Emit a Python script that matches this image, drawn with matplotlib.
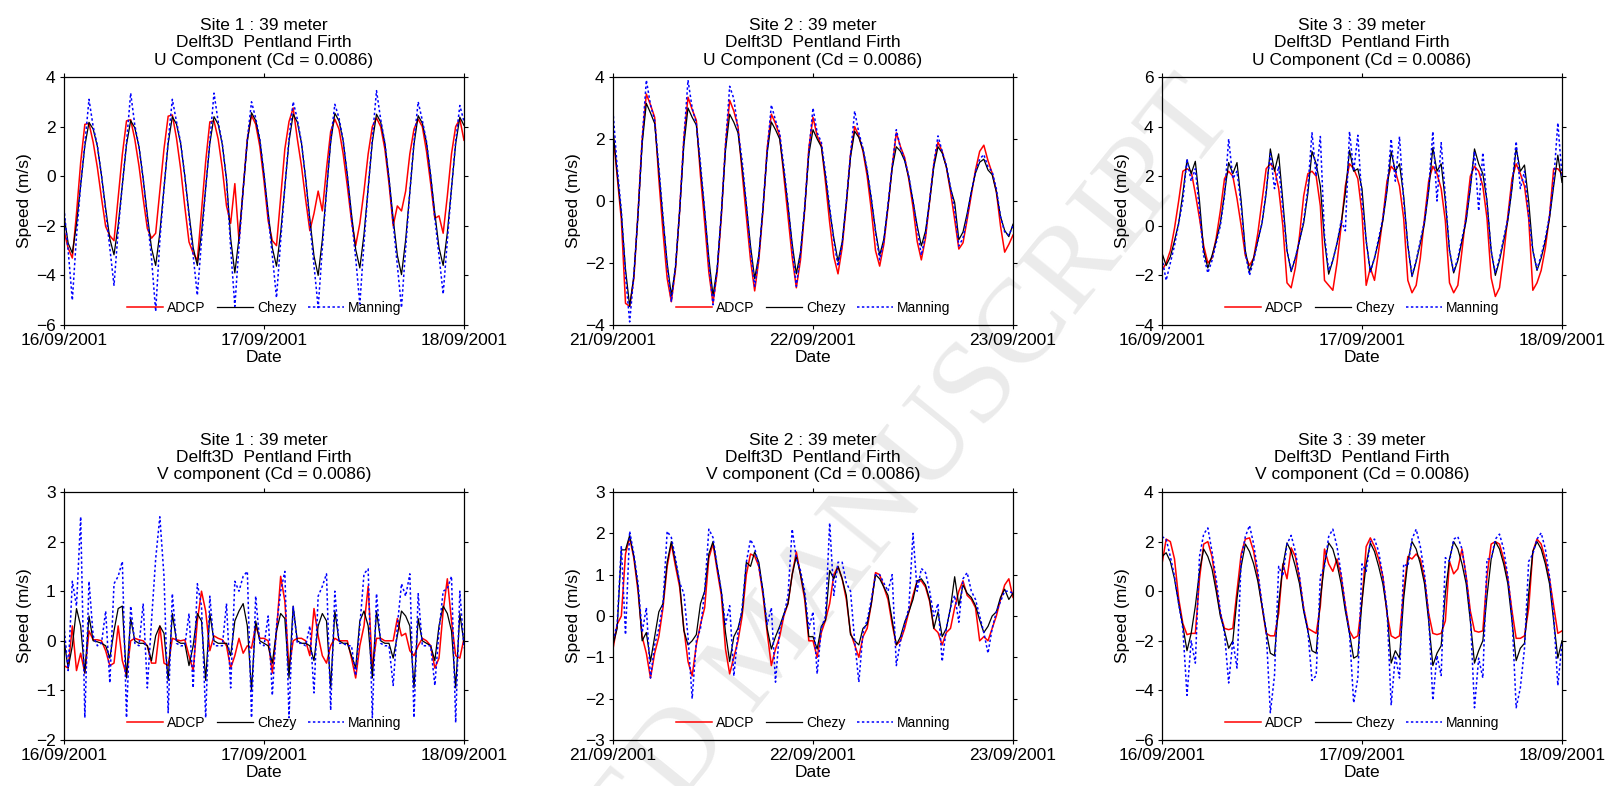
import numpy as np
import matplotlib
matplotlib.use('Agg')
import matplotlib.pyplot as plt
import matplotlib.dates as mdates

plt.rcParams['font.family'] = ['Liberation Sans', 'DejaVu Sans']

# half-hourly values (m/s), 97 samples = two days per panel
u1_adcp = [-2.2, -2.9, -3.3, -1.5, 0.55, 2.09, 2.13, 1.37, 0.36, -0.88, -2.03, -2.4,
           -2.6, -0.87, 0.87, 2.23, 2.28, 1.48, 0.41, -0.9, -2.11, -2.5,
           -2.3, -0.6, 1.1, 2.42, 2.47, 1.53, 0.29, -1.24, -2.65, -3.1,
           -3.4, -1.41, 0.59, 2.19, 2.23, 1.5, 0.3, -1.2, -1.9,
           -0.3, -2.6, -0.5, 1.5, 2.45, 2.1, 1.2, -0.2, -1.8, -2.6,
           -2.8, -0.86, 1.09, 2.2, 2.75, 1.5, 0.4, -0.95, -2.2, -1.5,
           -0.6, -1.4, 0.3, 1.8, 2.3, 1.9, 0.9, -0.4, -1.8, -2.8,
           -1.9, -0.6, 0.9, 2.0, 2.35, 2.0, 1.1, -0.3, -2.0, -1.2,
           -1.4, -0.6, 0.9, 1.9, 2.3, 2.0, 1.0, -0.3, -1.7, -1.6,
           -2.3, -0.8, 0.9, 2.0, 2.3, 1.45]
u1_chezy = [-1.6, -2.7,
            -3.1, -1.94, -0.36, 1.22, 2.17, 1.90, 1.21, 0.03, -1.30, -2.53,
            -3.17, -1.98, -0.36, 1.27, 2.24, 1.95, 1.19, -0.1, -1.56, -2.9,
            -3.6, -2.28, -0.48, 1.32, 2.4, 2.1, 1.32, 0.0, -1.5, -2.88,
            -3.6, -2.28, -0.48, 1.32, 2.4, 2.09, 1.27, -0.12, -2.51,
            -3.9, -2.48, -0.54, 1.4, 2.56, 2.25, 1.45, 0.08, -1.46, -2.89,
            -3.63, -2.28, -0.44, 1.4, 2.5, 2.18, 1.33, -0.1, -1.72, -3.22,
            -4.0, -2.56, -0.6, 1.36, 2.54, 2.23, 1.42, 0.04, -1.52, -2.95,
            -3.7, -2.34, -0.48, 1.38, 2.5, 2.18, 1.34, -0.09, -1.71, -3.19,
            -3.97, -2.56, -0.64, 1.29, 2.44, 2.14, 1.35, 0.02, -1.49, -2.88,
            -3.6, -2.28, -0.49, 1.30, 2.38, 2.05]
u1_manning = [-1.3, -3.0, -5.0, -2.4, -0.36, 1.3, 3.1, 2.0, 1.25, 0.03, -1.4, -2.9,
              -4.4, -2.2, -0.36, 1.35, 3.35, 2.05, 1.2, -0.1, -1.7, -3.3,
              -5.45, -2.6, -0.48, 1.4, 3.1, 2.2, 1.35, 0.0, -1.6, -3.2,
              -4.8, -2.6, -0.48, 1.4, 3.35, 2.2, 1.3, -0.15, -2.9,
              -5.25, -2.8, -0.54, 1.5, 3.0, 2.35, 1.5, 0.08, -1.6, -3.2,
              -4.9, -2.6, -0.44, 1.5, 3.0, 2.3, 1.35, -0.1, -1.9, -3.6,
              -5.3, -2.9, -0.6, 1.45, 2.9, 2.35, 1.45, 0.04, -1.7, -3.3,
              -5.15, -2.7, -0.48, 1.5, 3.45, 2.3, 1.35, -0.09, -1.9, -3.6,
              -5.3, -2.9, -0.64, 1.4, 3.0, 2.25, 1.4, 0.02, -1.7, -3.2,
              -4.75, -2.6, -0.49, 1.4, 2.85, 2.2]

u2_adcp = [2.2, 0.8, -0.6, -3.3, -3.4,
           -2.5, -0.4, 2.0, 3.45, 3.1, 2.7, 0.7, -1.0, -2.5,
           -3.25, -2.2, -0.3, 2.0, 3.35, 2.95, 2.6, 0.8, -0.7, -2.3,
           -3.3, -2.3, -0.5, 1.8, 3.25, 2.9, 2.4, 0.9, -0.5, -1.9,
           -2.9, -1.9, -0.3, 1.7, 2.8, 2.5, 2.1, 0.8, -0.5, -1.8,
           -2.8, -1.9, -0.3, 1.7, 2.7, 2.1, 1.8, 0.6, -0.7, -1.8,
           -2.35, -1.5, -0.1, 1.5, 2.4, 2.1, 1.6, 0.8, -0.3, -1.6,
           -2.1, -1.4, -0.2, 1.1, 2.2, 1.75, 1.4, 0.7, -0.2, -1.3,
           -1.9, -1.2, 0.0, 1.2, 1.9, 1.6, 1.1, 0.3, -0.6,
           -1.55, -1.35, -0.6, 0.2, 1.0, 1.6, 1.8, 1.3, 0.9, 0.3, -0.8, -1.65, -1.4, -1.1]
u2_chezy = [2.3, 0.9, -0.4, -2.2, -3.4,
            -2.42, -0.45, 1.84, 3.15, 2.84, 2.5, 0.98, -0.57, -2.0,
            -3.05, -2.14, -0.33, 1.79, 3.0, 2.7, 2.45, 1.06, -0.33, -1.84,
            -3.05, -2.17, -0.42, 1.63, 2.8, 2.54, 2.2, 1.1, -0.12, -1.44,
            -2.5, -1.74, -0.23, 1.54, 2.55, 2.3, 2.0, 0.98, -0.15, -1.37,
            -2.35, -1.65, -0.26, 1.5, 2.3, 2.0, 1.75, 0.8, -0.3, -1.2,
            -1.95, -1.32, -0.06, 1.41, 2.25, 2.05, 1.65, 0.97, 0.05, -0.95,
            -1.75, -1.23, -0.17, 1.05, 1.75, 1.6, 1.3, 0.75, 0.0, -0.8,
            -1.45, -0.97, 0.0, 1.1, 1.75, 1.55, 1.1, 0.4, -0.05,
            -1.25, -1.0, -0.4, 0.3, 0.9, 1.25, 1.35, 1.0, 0.85, 0.3, -0.5, -0.95, -1.15, -0.75]
u2_manning = [2.9, 1.1, -0.3, -2.4, -3.9,
              -2.4, -0.45, 2.0, 3.9, 3.1, 2.6, 1.1, -0.5, -2.1,
              -3.25, -2.1, -0.3, 2.0, 3.9, 3.0, 2.5, 1.2, -0.3, -2.0,
              -3.35, -2.2, -0.4, 1.8, 3.7, 3.3, 2.3, 1.3, -0.1, -1.6,
              -2.75, -1.8, -0.2, 1.6, 3.1, 2.6, 2.2, 1.1, -0.1, -1.5,
              -2.75, -1.7, -0.2, 1.6, 3.0, 2.2, 1.9, 0.9, -0.2, -1.3,
              -2.1, -1.4, 0.0, 1.5, 2.9, 2.2, 1.7, 1.0, 0.1, -1.0,
              -1.9, -1.3, -0.1, 1.1, 2.3, 1.7, 1.35, 0.8, 0.0, -0.9,
              -1.75, -1.1, 0.05, 1.2, 2.1, 1.6, 1.15, 0.45, -0.3,
              -1.45, -1.2, -0.5, 0.3, 0.95, 1.35, 1.5, 1.1, 0.95, 0.4, -0.5, -1.0, -1.1, -0.8]

u3_adcp = [-1.8, -1.5, -1.0, -0.1, 1.0, 2.2, 2.3, 2.2, 1.3, 0.3, -0.8, -1.5,
           -1.3, -0.5, 0.6, 1.9, 2.2, 2.0, 1.1, 0.0, -1.2, -1.6,
           -1.3, -0.3, 1.0, 2.3, 2.5, 2.3, 1.5, 0.0, -2.3, -2.5,
           -1.7, -0.4, 1.2, 2.1, 2.2, 2.0, 0.8, -2.2, -2.4, -2.6,
           -1.5, 0.0, 1.6, 2.5, 2.3, 1.9, 0.5, -2.4, -1.7, -2.2,
           -1.0, 0.3, 1.8, 2.4, 2.2, 1.6, 0.3, -2.2, -2.7, -2.4,
           -1.3, 0.3, 1.8, 2.4, 2.1, 1.5, 0.2, -2.3, -2.7, -2.4,
           -1.0, 0.5, 2.0, 2.4, 2.2, 1.6, 0.3, -2.1, -2.85, -2.5,
           -1.2, 0.4, 1.9, 2.5, 2.1, 1.6, 0.3, -2.6, -2.3, -1.8,
           -0.9, 0.4, 2.3, 2.3, 2.1]
u3_chezy = [-1.1, -1.6, -1.25, -0.6, 0.1, 1.3, 2.65, 2.1, 2.6, 1.0, -1.0,
            -1.7, -1.2, -0.6, 0.1, 1.3, 2.55, 2.1, 2.55, 1.0, -1.0,
            -1.85, -1.3, -0.6, 0.1, 1.3, 3.1, 2.2, 2.9, 1.0, -1.0,
            -1.85, -1.3, -0.6, 0.1, 1.3, 3.0, 2.5, 1.6, -0.6,
            -1.95, -1.4, -0.7, 0.1, 1.3, 3.05, 2.2, 2.3, 1.5, -0.6,
            -1.85, -1.3, -0.6, 0.2, 1.4, 3.0, 2.2, 2.5, 1.2, -0.8,
            -2.05, -1.45, -0.7, 0.1, 1.4, 3.15, 2.2, 2.5, 1.0, -1.0,
            -1.9, -1.4, -0.6, 0.2, 1.5, 3.1, 2.5, 2.1, 1.0, -1.0,
            -2.0, -1.4, -0.6, 0.2, 1.5, 3.15, 2.2, 2.45, 1.0, -1.0,
            -1.8, -1.3, -0.6, 0.3, 1.6, 2.85, 1.75]
u3_manning = [-1.3, -2.2, -1.5, -0.8, 0.1, 1.0, 2.7, 1.8, 2.3, 0.6, -1.2,
              -1.9, -1.4, -0.7, 0.0, 1.2, 3.5, 1.9, 2.2, 0.8, -1.1,
              -2.0, -1.4, -0.6, 0.1, 1.4, 2.9, 1.5, 2.4, 0.7, -1.0,
              -1.8, -1.3, -0.6, 0.2, 1.5, 3.75, 2.0, 3.6, -0.4,
              -1.8, -1.4, -0.7, 0.2, -0.2, 3.8, 2.2, 3.65, 1.0, -0.6,
              -1.85, -1.3, -0.5, 0.3, 1.5, 3.5, 1.8, 3.6, 1.0, -0.8,
              -2.0, -1.4, -0.6, 0.2, 1.5, 3.8, 1.0, 3.35, 1.2, -1.0,
              -1.85, -1.3, -0.5, 0.3, 1.6, 3.0, 0.6, 2.95, 0.9, -1.0,
              -1.9, -1.3, -0.5, 0.3, 1.6, 3.4, 1.5, 2.2, 0.4, -1.0,
              -1.75, -1.2, -0.5, 0.4, 1.8, 4.15, 2.0]

v1_adcp = [-0.5, -0.55, 0.3, -0.6, -0.25, -0.65, 0.2, 0.02, 0.02, 0.0,
           -0.2, -0.5, -0.45, 0.3, -0.4, -0.7, 0.0, 0.05, 0.02, 0.0,
           -0.1, -0.45, -0.45, 0.3, -0.45, -0.5, 0.05, 0.02, 0.0, 0.02,
           -0.3, -0.6, 0.4, 1.0, 0.6, -0.2, 0.1, 0.05, 0.02, -0.1,
           -0.55, -0.3, 0.05, -0.25, -0.1, -0.15, 0.3, 0.05, 0.05, 0.0,
           -0.65, 0.2, 1.3, 0.8, -0.55, 0.0, 0.05, 0.05, 0.0, -0.3,
           0.65, 0.1, -0.3, -0.45, -0.1, 0.05, 0.0, 0.0, 0.0, -0.35,
           -0.75, -0.1, 0.3, 1.1, -0.55, 0.05, 0.05, 0.0, 0.0, 0.0,
           0.45, 0.1, 0.15, -0.2, -0.3, -0.1, 0.05, 0.0, -0.1, -0.55,
           -0.35, 0.6, 1.25, 0.4, -0.3, -0.35, 0.05]
v1_chezy = [0.0, -0.55, -0.1, 0.65, 0.3, -0.65, 0.5, 0.0, -0.02, -0.05,
            -0.1, -0.35, 0.2, 0.65, 0.7, -0.75, 0.45, 0.0, -0.05, -0.05,
            -0.1, -0.4, 0.1, 0.3, 0.15, -0.8, 0.55, 0.0, -0.05, -0.05,
            -0.5, -0.1, 0.55, 0.4, -0.8, 0.55, 0.0, -0.05, -0.05, -0.05,
            -0.3, 0.4, 0.6, 0.75, 0.3, -1.0, 0.4, 0.0, -0.05, -0.1,
            -0.45, 0.2, 0.55, 0.45, -0.75, 0.7, 0.0, -0.05, -0.05, -0.1,
            -0.4, 0.3, 0.55, 0.4, -0.95, 0.6, 0.0, -0.05, -0.05, -0.3,
            -0.55, 0.4, 0.6, 0.3, -0.75, 0.6, 0.0, -0.05, -0.05, -0.35,
            0.1, 0.6, 0.5, 0.3, -0.95, 0.45, 0.0, -0.05, -0.1, -0.4,
            0.3, 0.7, 0.55, 0.2, -0.95, 0.55, -0.05]
v1_manning = [0.3, -0.6, 1.2, 0.7, 2.5, -1.55, 1.2, 0.1, -0.1, -0.05,
              0.6, -0.85, 1.15, 1.3, 1.6, -1.55, 0.7, -0.05, -0.1, 0.75,
              -0.95, 0.4, 1.65, 2.5, 1.3, -1.45, 0.95, -0.05, -0.1, -0.1,
              0.55, -0.95, 1.15, 0.7, -1.55, 0.9, -0.1, -0.1, -0.1, 0.75,
              -0.95, 1.2, 1.0, 1.3, 1.4, -1.55, 0.9, -0.05, -0.1, 0.5,
              -1.1, 0.3, 1.0, 1.4, -1.55, 0.7, -0.05, -0.05, -0.1, 0.3,
              -1.05, 0.9, 1.1, 1.35, -1.4, 1.0, -0.05, -0.05, -0.1, -0.1,
              -0.7, 0.3, 1.35, 1.45, -1.55, 0.95, -0.05, -0.1, -0.1, -0.9,
              0.3, 1.15, 0.9, 1.35, -1.55, 0.95, -0.1, -0.1, -0.1, -0.9,
              0.2, 1.0, 1.05, 1.3, -1.65, 1.0, -0.15]

v2_adcp = [-0.8, -0.2, 0.0, 1.5, 1.9, 1.4, 0.6, -0.5, -0.9, -1.5,
           -0.9, -0.5, 0.2, 1.2, 1.75, 1.2, 0.7, -0.3, -1.1, -1.45,
           -0.7, -0.2, 0.2, 1.4, 1.75, 1.1, 0.5, -0.8, -1.4, -1.0,
           -0.6, 0.0, 1.0, 1.5, 1.45, 1.2, 0.5, -0.4, -1.2, -0.8,
           -0.5, 0.0, 0.3, 1.0, 1.55, 1.0, 0.4, -0.6, -0.6, -1.0,
           -0.4, -0.1, 0.3, 1.0, 1.2, 0.9, 0.4, -0.4, -0.7, -1.0,
           -0.5, -0.3, 0.3, 1.05, 1.0, 0.7, 0.4, -0.2, -0.7, -0.6,
           -0.3, 0.1, 0.5, 0.85, 0.85, 0.7, 0.35, -0.3, -0.4, -0.7,
           -0.4, -0.3, 0.2, 0.6, 0.85, 0.5, 0.4, 0.2, -0.6, -0.5,
           -0.6, -0.3, 0.0, 0.4, 0.75, 0.9, 0.45]
v2_chezy = [-0.7, -0.3, 1.6, 1.6, 1.95, 1.45, 0.7, -0.6, -0.4, -1.1,
            -0.5, 0.1, 0.3, 1.3, 1.8, 1.3, 0.8, -0.35, -0.7, -0.6,
            -0.45, 0.3, 0.6, 1.5, 1.8, 1.2, 0.6, -0.4, -1.1, -0.5,
            -0.3, 0.1, 1.3, 1.2, 1.55, 1.3, 0.6, -0.3, -0.8, -0.5,
            -0.25, 0.05, 0.3, 1.0, 1.45, 1.0, 0.5, -0.5, -0.5, -0.8,
            -0.25, -0.1, 1.1, 0.9, 1.2, 0.9, 0.5, -0.45, -0.6, -0.7,
            -0.3, -0.2, 0.3, 1.0, 0.9, 0.7, 0.5, -0.1, -0.7, -0.5,
            -0.15, 0.1, 0.4, 0.85, 0.9, 0.75, 0.4, -0.3, 0.1, -0.5,
            -0.3, 0.2, 0.95, 0.25, 0.75, 0.55, 0.45, 0.25, -0.1, -0.4,
            -0.25, 0.0, 0.1, 0.45, 0.65, 0.4, 0.55]
v2_manning = [-0.6, -0.2, 1.7, -0.45, 2.05, 1.5, 0.8, -0.4, 0.2, -1.5,
              -0.7, -0.3, 0.3, 2.05, 1.9, 1.4, 0.8, 0.55, -0.5, -2.0,
              -0.6, -0.3, 0.6, 2.1, 1.9, 1.2, 0.6, -0.2, 0.25, -1.45,
              -0.4, 0.2, 1.3, 1.85, 1.65, 1.2, 0.6, -0.2, 0.2, -1.6,
              -0.3, 0.0, 0.5, 2.1, 1.4, 1.1, 0.6, -0.3, 0.1, -1.4,
              -0.3, 0.0, 2.25, 0.5, 1.3, 1.3, 0.8, 0.6, -0.6, -1.6,
              -0.4, -0.1, 0.4, 1.0, 1.0, 0.8, 0.6, 1.0, -1.2, -0.6,
              -0.2, 0.2, 2.0, 0.6, 1.15, 1.05, 0.6, 0.0, 0.3, -1.1,
              -0.3, 0.2, 0.5, -0.15, 0.9, 1.05, 0.6, 0.4, 0.0, -0.4,
              -0.9, -0.3, 0.1, 0.35, 0.6, 0.6, 0.55]

v3_adcp = [1.1, 2.1, 2.0, 1.3, -0.3, -1.3, -1.75, -1.7, -1.7, 0.5,
           1.9, 2.0, 1.4, 0.2, -0.9, -1.5, -1.55, -1.5, 0.0, 1.5,
           2.1, 2.15, 1.6, 0.6, -0.6, -1.7, -1.8, -1.8, -0.9, 1.1,
           0.5, 1.75, 1.4, 0.5, -0.7, -1.5, -1.6, -1.7, -0.6, 1.7,
           1.1, 0.8, 1.3, 0.6, -0.6, -1.6, -1.9, -1.8, -0.4, 1.8,
           2.15, 1.8, 1.3, 0.6, -0.9, -1.8, -1.9, -1.8, 0.0, 1.4,
           1.3, 1.5, 1.3, 0.5, -0.9, -1.7, -1.75, -1.7, -1.2, 1.2,
           0.7, 0.9, 1.7, 0.6, -0.8, -1.6, -1.65, -1.6, 0.6, 1.9,
           2.0, 1.9, 1.3, 0.5, -0.8, -1.9, -1.9, -1.8, -0.7, 1.6,
           2.1, 1.9, 1.3, 0.5, -0.6, -1.7, -1.6]
v3_chezy = [1.4, 1.55, 1.2, 0.5, -0.5, -1.4, -2.4, -1.7, -0.6, 0.8,
            1.7, 1.4, 0.9, 0.0, -1.0, -1.6, -2.3, -2.0, -0.3, 1.0,
            1.9, 1.6, 1.1, 0.4, -0.6, -1.6, -2.5, -2.6, -0.5, 1.0,
            1.95, 1.6, 1.0, 0.3, -0.8, -1.6, -2.4, -2.5, -0.3, 1.1,
            1.95, 1.7, 1.1, 0.3, -0.8, -1.7, -2.7, -2.6, -0.4, 1.1,
            1.95, 1.6, 1.0, 0.3, -0.8, -2.9, -2.4, -2.7, -0.3, 1.2,
            2.0, 1.7, 1.1, 0.3, -1.2, -3.0, -2.5, -2.2, -0.1, 1.3,
            2.0, 1.7, 1.1, 0.3, -1.2, -2.9, -2.4, -2.0, -0.2, 1.3,
            2.0, 1.7, 1.1, 0.3, -1.2, -2.8, -2.3, -2.1, -0.1, 1.6,
            2.0, 1.7, 1.1, 0.3, -1.2, -2.7, -2.0]
v3_manning = [2.2, 2.1, 1.4, 0.6, -0.5, -1.5, -4.2, -2.0, -2.9, 1.4,
              2.3, 2.55, 1.6, 0.5, -0.8, -1.7, -3.7, -2.0, -3.1, 1.3,
              2.2, 2.65, 1.9, 0.8, -0.5, -1.6, -4.9, -3.4, 1.0, 0.6,
              1.9, 2.25, 1.6, 0.6, -0.7, -1.6, -3.6, -3.4, 0.6, 1.0,
              2.2, 2.5, 1.8, 0.7, -0.6, -1.7, -4.5, -3.5, 1.1, 0.8,
              2.0, 2.1, 1.6, 0.6, -0.7, -4.6, -2.6, -3.5, 1.1, 1.0,
              2.1, 2.5, 1.8, 0.7, -1.0, -4.4, -2.6, -3.4, 1.35, 1.2,
              2.1, 2.2, 1.7, 0.6, -1.0, -4.7, -2.7, -3.5, 1.3, 1.3,
              2.1, 2.3, 1.7, 0.6, -1.0, -4.7, -3.9, -2.3, 1.2, 1.5,
              2.1, 2.35, 1.7, 0.6, -1.0, -3.8, -2.1]

start_dates = ['2001-09-16', '2001-09-21', '2001-09-16']
site_labels = ['Site 1', 'Site 2', 'Site 3']
component_labels = ['U Component', 'V component']
y_limits = [[(-6, 4), (-4, 4), (-4, 6)], [(-2, 3), (-3, 3), (-6, 4)]]
y_steps = [[2, 2, 2], [1, 1, 2]]

series = [[(u1_adcp, u1_chezy, u1_manning), (u2_adcp, u2_chezy, u2_manning), (u3_adcp, u3_chezy, u3_manning)],
          [(v1_adcp, v1_chezy, v1_manning), (v2_adcp, v2_chezy, v2_manning), (v3_adcp, v3_chezy, v3_manning)]]

W, H = 1610, 786
fig = plt.figure(figsize=(W / 100, H / 100), dpi=100)

# faint diagonal watermark behind the panels
fig.text(768 / W, 1 - 649 / H, 'ACCEPTED MANUSCRIPT', rotation=51, ha='center', va='center',
         fontsize=86, family='Liberation Serif', color='#ebebeb', zorder=-1)

col_left = [64, 613, 1162]
row_bottom = [325, 740]
for r in range(2):
    for c in range(3):
        ax = fig.add_axes([col_left[c] / W, 1 - row_bottom[r] / H, 400 / W, 248 / H])
        ax.set_facecolor('none')
        t0 = np.datetime64(start_dates[c] + 'T00:00')
        adcp, chezy, manning = series[r][c]
        t_a = t0 + np.arange(len(adcp)) * np.timedelta64(30, 'm')
        t_c = t0 + np.arange(len(chezy)) * np.timedelta64(30, 'm')
        t_m = t0 + np.arange(len(manning)) * np.timedelta64(30, 'm')
        ax.plot(t_a, adcp, color='#ff0000', lw=1.1, label='ADCP')
        ax.plot(t_c, chezy, color='black', lw=0.9, label='Chezy')
        ax.plot(t_m, manning, color='#0000ff', lw=1.1, ls=(0, (1.6, 1.6)), label='Manning')

        ax.set_xlim(t0, t0 + np.timedelta64(2, 'D'))
        ax.xaxis.set_major_locator(mdates.DayLocator())
        ax.xaxis.set_major_formatter(mdates.DateFormatter('%d/%m/%Y'))
        lo, hi = y_limits[r][c]
        ax.set_ylim(lo, hi)
        ax.set_yticks(np.arange(lo, hi + 0.1, y_steps[r][c]))
        ax.tick_params(direction='out', length=3, width=0.8, top=True, right=True,
                       labelsize=12.5, pad=3)
        for sp in ax.spines.values():
            sp.set_linewidth(0.9)
        ax.set_xlabel('Date', fontsize=12.5, labelpad=1)
        ax.set_ylabel('Speed (m/s)', fontsize=12.5, labelpad=3)
        ax.set_title(site_labels[c] + ' : 39 meter\nDelft3D  Pentland Firth\n'
                     + component_labels[r] + ' (Cd = 0.0086)', fontsize=12.5, y=1.0, pad=9)
        ax.legend(loc='lower center', ncol=3, frameon=False, fontsize=10, handlelength=2.6,
                  handletextpad=0.3, columnspacing=0.8, borderaxespad=0.3)

fig.savefig('out.png', dpi=100)
